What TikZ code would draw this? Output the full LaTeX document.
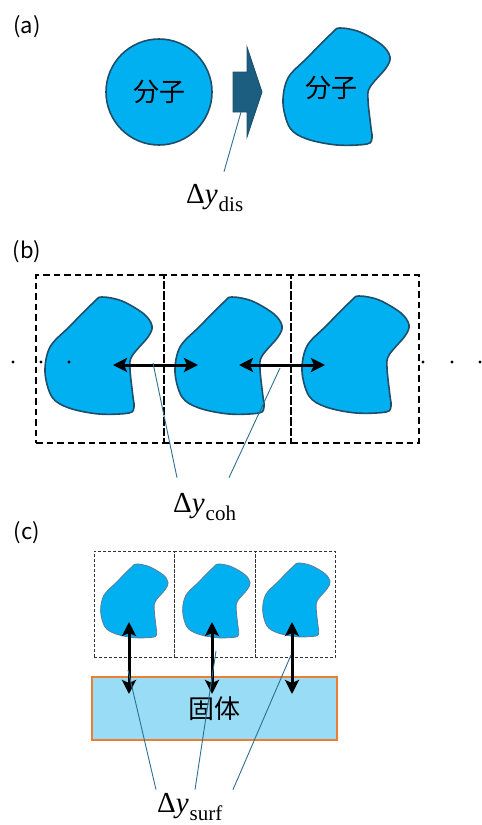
\documentclass[tikz,border=0pt]{standalone}
\usepackage{fontspec}
\newfontfamily\jpfont{Noto Sans CJK JP}
\newfontfamily\seriffont{Liberation Serif}
\usetikzlibrary{positioning, arrows.meta, calc}
\definecolor{molblue}{HTML}{00B0F0}
\definecolor{molline}{HTML}{1F4E6B}
\definecolor{molthin}{HTML}{5B7C99}
\definecolor{shiftblue}{HTML}{1B5E80}
\definecolor{leaderblue}{HTML}{2F6E8E}
\definecolor{solidfill}{HTML}{99DCF6}
\definecolor{solidedge}{HTML}{ED7D31}
\newcommand{\dely}[1]{\seriffont\fontsize{29}{32}\selectfont
  Δ\textit{y}\kern1pt\raisebox{-8pt}{\fontsize{21}{22}\selectfont #1}}

\tikzset{
  blob/.pic={
    \path[pic actions] plot[smooth cycle, tension=0.55] coordinates {
      (50,5) (58,0) (78,4) (100,17) (108,29) (104,40) (88,59) (86,72)
      (89,100) (90,110) (85,116) (55,117) (25,111) (8,100) (1,75) (6,50) (25,30)};
  }
}

\begin{document}
\begin{tikzpicture}[
  x=1pt, y=-1pt,
  panel/.style={font=\jpfont\fontsize{22}{26}\selectfont, inner sep=0pt},
  jp/.style={font=\jpfont\fontsize{26}{30}\selectfont, inner sep=0pt},
  delta/.style={inner sep=0pt, anchor=base west},
  mol/.style={draw=molline, fill=molblue, line width=1.6pt},
  molsmall/.style={draw=molthin, fill=molblue, line width=0.8pt},
  cell/.style={draw, dash pattern=on 6.5pt off 4pt, line width=1.6pt,
    minimum width=127.5pt, minimum height=168pt, inner sep=0pt, outer sep=0pt},
  cellsmall/.style={draw=black!80, dash pattern=on 3pt off 2pt, line width=0.7pt,
    minimum width=80.5pt, minimum height=106pt, inner sep=0pt, outer sep=0pt},
  solid/.style={draw=solidedge, fill=solidfill, line width=1.8pt,
    minimum width=245pt, minimum height=63pt, inner sep=0pt},
  bond/.style={{Stealth[length=14pt, width=14pt, inset=3pt]}-{Stealth[length=14pt, width=14pt, inset=3pt]},
    line width=3pt},
  leader/.style={draw=leaderblue, line width=0.9pt},
]
\useasboundingbox (0,0) rectangle (482,825);

% (a)
\node[panel] (pa) at (27,27) {(a)};
\node[circle, mol, minimum size=106pt, jp] (sphere) at (159,92) {分子};
\draw[draw=molline, fill=shiftblue, line width=0.8pt]
  (233,72) -- (247,72) -- (247,47) -- (262,92) -- (247,137) -- (247,112) -- (233,112) -- cycle;
\coordinate (shift) at (241,112);
\pic[mol] at (282,28) {blob};
\node[jp] (deformed) at (331,88) {分子};
\node[delta] (dis) at (186,203) {\dely{dis}};
\draw[leader] (shift) -- ([xshift=38pt, yshift=12pt]dis.north west);

% (b)
\node[panel] (pb) at (27,252) {(b)};
\node[cell] (cell1) at (100,359) {};
\node[cell, right=0pt of cell1] (cell2) {};
\node[cell, right=0pt of cell2] (cell3) {};
\pic[mol] at (44,297) {blob};
\pic[mol] at (174,297) {blob};
\pic[mol] at (301,296) {blob};
\foreach \x in {13,41,69,423,452,480}
  \fill (\x,362) circle (1.6pt);
\coordinate (b1l) at (113,365);
\coordinate (b1r) at (198,365);
\coordinate (b2l) at (239,365);
\coordinate (b2r) at (325,365);
\draw[bond] (b1l) -- (b1r);
\draw[bond] (b2l) -- (b2r);
\node[delta] (coh) at (173,512) {\dely{coh}};
\coordinate (coh1) at (153,363);
\coordinate (coh2) at (280,368);
\draw[leader] (coh1) -- ([xshift=4pt, yshift=15pt]coh.north west);
\draw[leader] (coh2) -- ([xshift=56pt, yshift=15pt]coh.north west);

% (c)
\node[panel] (pc) at (27,533) {(c)};
\node[cellsmall] (site1) at (134.5,604) {};
\node[cellsmall, right=0pt of site1] (site2) {};
\node[cellsmall, right=0pt of site2] (site3) {};
\pic[molsmall, scale=0.63] at (100,564) {blob};
\pic[molsmall, scale=0.63] at (182,564) {blob};
\pic[molsmall, scale=0.63] at (262,563) {blob};
\node[solid, jp] (base) at (214.5,708.5) {固体};
\foreach \i/\x in {1/129,2/212,3/292} {
  \coordinate (s\i t) at (\x,622);
  \coordinate (s\i b) at (\x,694);
  \draw[bond] (s\i t) -- (s\i b);
}
\node[delta] (surf) at (157,812) {\dely{surf}};
\coordinate (surf1) at (128,670);
\coordinate (surf2) at (216,651);
\coordinate (surf3) at (291,655);
\draw[leader] (surf1) -- ([xshift=-1pt, yshift=3pt]surf.north west);
\draw[leader] (surf2) -- ([xshift=38pt, yshift=3pt]surf.north west);
\draw[leader] (surf3) -- ([xshift=76pt, yshift=3pt]surf.north west);
\end{tikzpicture}
\end{document}
